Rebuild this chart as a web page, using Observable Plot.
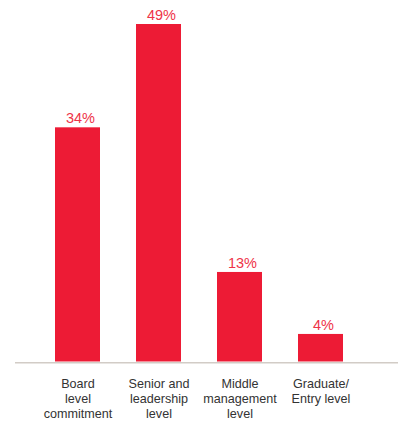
<!DOCTYPE html>
<html>
<head>
<meta charset="utf-8">
<script src="https://cdn.jsdelivr.net/npm/d3@7"></script>
<script src="https://cdn.jsdelivr.net/npm/@observablehq/plot@0.6"></script>
<style>
  html, body { margin: 0; padding: 0; background: #fff; }
  #chart svg { display: block; }
</style>
</head>
<body>
<div id="chart"></div>
<script>
const categories = ["Board\nlevel\ncommitment", "Senior and\nleadership\nlevel", "Middle\nmanagement\nlevel", "Graduate/\nEntry level"];
const values = [34, 49, 13, 4];
const labels = ["34%", "49%", "13%", "4%"];

const data = categories.map((c, i) => ({category: c, value: values[i], label: labels[i]}));

const chart = Plot.plot({
  width: 403,
  height: 421,
  marginLeft: 15,
  marginRight: 5,
  marginTop: 0,
  marginBottom: 0,
  style: {fontFamily: "Liberation Sans, Arial, sans-serif", background: "#fff"},
  x: {domain: categories, range: [53, 345], paddingInner: 0.439, paddingOuter: 0, axis: null},
  y: {domain: [0, 49], range: [361.5, 24], axis: null},
  marks: [
    Plot.barY(data, {x: "category", y: "value", fill: "#ED1B35"}),
    Plot.ruleY([0], {stroke: "#d2ccc6", strokeWidth: 1.6, dy: 0.8}),
    Plot.text(data, {x: "category", y: "value", text: "label", fill: "#ee3348", fontSize: 14.5, lineAnchor: "bottom", dy: -4.5, dx: 2.5}),
    Plot.text(data, {x: "category", y: () => 0, text: "category", fill: "#333333", fontSize: 12.6, lineAnchor: "top", lineHeight: 1.2, dy: 15.5})
  ]
});
document.getElementById("chart").appendChild(chart);
</script>
</body>
</html>
